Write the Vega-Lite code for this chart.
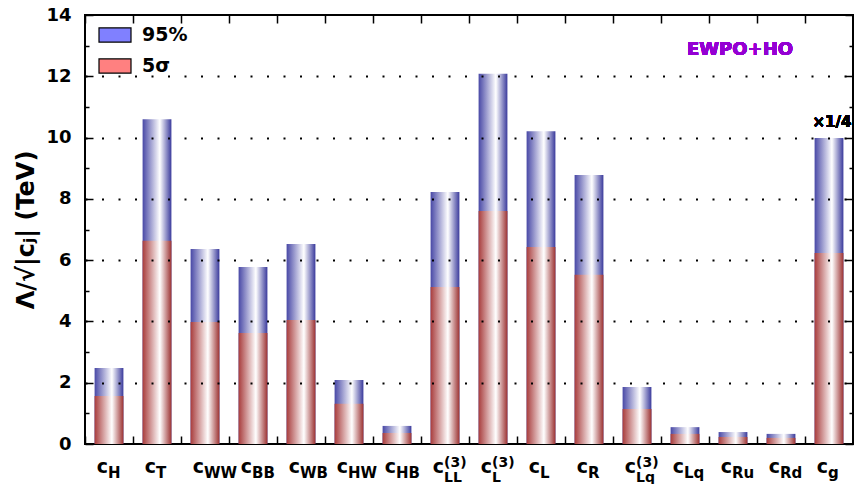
{
  "$schema": "https://vega.github.io/schema/vega-lite/v6.json",
  "width": 768,
  "height": 429,
  "autosize": "none",
  "padding": {"left": 85, "top": 15, "right": 2, "bottom": 40},
  "config": {"view": {"stroke": "#000", "strokeWidth": 2}, "font": "DejaVu Sans"},
  "data": {"values": [
    {"k": "cH", "sub": "H", "sup": "", "b95": 2.48, "b5": 1.57},
    {"k": "cT", "sub": "T", "sup": "", "b95": 10.6, "b5": 6.63},
    {"k": "cWW", "sub": "WW", "sup": "", "b95": 6.36, "b5": 3.98},
    {"k": "cBB", "sub": "BB", "sup": "", "b95": 5.78, "b5": 3.62},
    {"k": "cWB", "sub": "WB", "sup": "", "b95": 6.53, "b5": 4.05},
    {"k": "cHW", "sub": "HW", "sup": "", "b95": 2.09, "b5": 1.31},
    {"k": "cHB", "sub": "HB", "sup": "", "b95": 0.59, "b5": 0.36},
    {"k": "cLL3", "sub": "LL", "sup": "(3)", "b95": 8.22, "b5": 5.12},
    {"k": "cL3", "sub": "L", "sup": "(3)", "b95": 12.08, "b5": 7.6},
    {"k": "cL", "sub": "L", "sup": "", "b95": 10.21, "b5": 6.43},
    {"k": "cR", "sub": "R", "sup": "", "b95": 8.78, "b5": 5.52},
    {"k": "cLq3", "sub": "Lq", "sup": "(3)", "b95": 1.86, "b5": 1.14},
    {"k": "cLq", "sub": "Lq", "sup": "", "b95": 0.55, "b5": 0.33},
    {"k": "cRu", "sub": "Ru", "sup": "", "b95": 0.39, "b5": 0.23},
    {"k": "cRd", "sub": "Rd", "sup": "", "b95": 0.33, "b5": 0.2},
    {"k": "cg", "sub": "g", "sup": "", "b95": 9.99, "b5": 6.23}
  ]},
  "resolve": {"axis": {"x": "independent", "y": "independent"}},
  "layer": [
    {
      "mark": {"type": "bar", "width": {"band": 0.6},
        "fill": {"gradient": "linear", "x1": 0, "y1": 0, "x2": 1, "y2": 0,
          "stops": [{"offset": 0, "color": "#4848a6"}, {"offset": 0.6, "color": "#ffffff"}, {"offset": 1, "color": "#3a3a9c"}]}},
      "encoding": {
        "x": {"field": "k", "type": "nominal", "sort": null,
          "scale": {"domain": ["cH","cT","cWW","cBB","cWB","cHW","cHB","cLL3","cL3","cL","cR","cLq3","cLq","cRu","cRd","cg"], "paddingInner": 0, "paddingOuter": 0},
          "axis": {"orient": "bottom", "labels": false, "title": null, "domain": false, "grid": false, "bandPosition": 0, "tickSize": -8, "tickColor": "#000", "tickWidth": 1.5}},
        "y": {"field": "b95", "type": "quantitative", "scale": {"domain": [0, 14], "nice": false, "zero": true},
          "axis": {"orient": "left", "values": [0,1,2,3,4,5,6,7,8,9,10,11,12,13,14],
            "labelExpr": "datum.value % 2 === 0 ? datum.label : ''",
            "tickSize": {"condition": {"test": "datum.value % 2 === 0", "value": -8}, "value": -4},
            "tickColor": "#000", "tickWidth": 1.5, "domain": false,
            "grid": true, "gridDash": [2, 14.5], "gridWidth": 2, "gridColor": "#000",
            "gridOpacity": {"condition": {"test": "datum.value % 2 === 0 && datum.value > 0 && datum.value < 14", "value": 1}, "value": 0},
            "labelFontSize": 18, "labelFontWeight": "bold", "labelColor": "#000", "labelPadding": 22,
            "title": "Λ/√|cⱼ| (TeV)", "titleFontSize": 24, "titleFontWeight": "bold", "titleColor": "#000", "titlePadding": 7,
            "zindex": 1}}
      }
    },
    {
      "mark": {"type": "bar", "width": {"band": 0.6},
        "fill": {"gradient": "linear", "x1": 0, "y1": 0, "x2": 1, "y2": 0,
          "stops": [{"offset": 0, "color": "#a83c3c"}, {"offset": 0.6, "color": "#ffffff"}, {"offset": 1, "color": "#9c3232"}]}},
      "encoding": {
        "x": {"field": "k", "type": "nominal", "sort": null,
          "axis": {"orient": "top", "labels": false, "title": null, "domain": false, "grid": false, "bandPosition": 0, "tickSize": -8, "tickColor": "#000", "tickWidth": 1.5}},
        "y": {"field": "b5", "type": "quantitative",
          "axis": {"orient": "right", "values": [0,1,2,3,4,5,6,7,8,9,10,11,12,13,14], "labels": false, "title": null, "domain": false, "grid": false,
            "tickSize": {"condition": {"test": "datum.value % 2 === 0", "value": -8}, "value": -4},
            "tickColor": "#000", "tickWidth": 1.5, "zindex": 1}}
      }
    },
    {
      "mark": {"type": "text", "text": "c", "align": "right", "baseline": "alphabetic", "dx": -1, "dy": 29, "fontSize": 19, "fontWeight": "bold", "color": "#000"},
      "encoding": {
        "x": {"field": "k", "type": "nominal", "sort": null, "axis": null},
        "y": {"datum": 0, "type": "quantitative", "axis": null}
      }
    },
    {
      "transform": [{"filter": "datum.sup == ''"}],
      "mark": {"type": "text", "align": "left", "baseline": "alphabetic", "dx": -1, "dy": 34, "fontSize": 15, "fontWeight": "bold", "color": "#000"},
      "encoding": {
        "x": {"field": "k", "type": "nominal", "sort": null, "axis": null},
        "y": {"datum": 0, "type": "quantitative", "axis": null},
        "text": {"field": "sub"}
      }
    },
    {
      "transform": [{"filter": "datum.sup != ''"}],
      "mark": {"type": "text", "align": "left", "baseline": "alphabetic", "dx": -1, "dy": 38, "fontSize": 14, "fontWeight": "bold", "color": "#000"},
      "encoding": {
        "x": {"field": "k", "type": "nominal", "sort": null, "axis": null},
        "y": {"datum": 0, "type": "quantitative", "axis": null},
        "text": {"field": "sub"}
      }
    },
    {
      "transform": [{"filter": "datum.sup != ''"}],
      "mark": {"type": "text", "align": "left", "baseline": "alphabetic", "dx": -1, "dy": 23, "fontSize": 14, "fontWeight": "bold", "color": "#000"},
      "encoding": {
        "x": {"field": "k", "type": "nominal", "sort": null, "axis": null},
        "y": {"datum": 0, "type": "quantitative", "axis": null},
        "text": {"field": "sup"}
      }
    },
    {
      "mark": {"type": "text", "text": "EWPO+HO", "align": "center", "baseline": "alphabetic", "dx": 7, "fontSize": 18, "fontWeight": "bold", "color": "#9400d3"},
      "encoding": {
        "x": {"datum": "cRu", "type": "nominal", "axis": null},
        "y": {"datum": 12.7, "type": "quantitative", "axis": null}
      }
    },
    {
      "mark": {"type": "text", "text": "×1/4", "align": "center", "baseline": "alphabetic", "dx": 3, "fontSize": 15, "fontWeight": "bold", "color": "#000"},
      "encoding": {
        "x": {"datum": "cg", "type": "nominal", "axis": null},
        "y": {"datum": 10.35, "type": "quantitative", "axis": null}
      }
    },
    {
      "data": {"values": [{"s": "95%"}, {"s": "5σ"}]},
      "mark": {"type": "square", "opacity": 0},
      "encoding": {
        "color": {"field": "s", "type": "nominal",
          "scale": {"domain": ["95%", "5σ"], "range": ["#8080ff", "#ff8080"]},
          "legend": {"title": null, "orient": "none", "legendX": 13, "legendY": 3, "padding": 0,
            "symbolType": "M-1,-0.44H1V0.44H-1Z", "symbolSize": 1024, "symbolStrokeColor": "#000", "symbolStrokeWidth": 1.2, "symbolOpacity": 1,
            "labelFontSize": 19, "labelFontWeight": "bold", "labelColor": "#000", "labelOffset": 10, "rowPadding": 4}}
      }
    }
  ]
}
